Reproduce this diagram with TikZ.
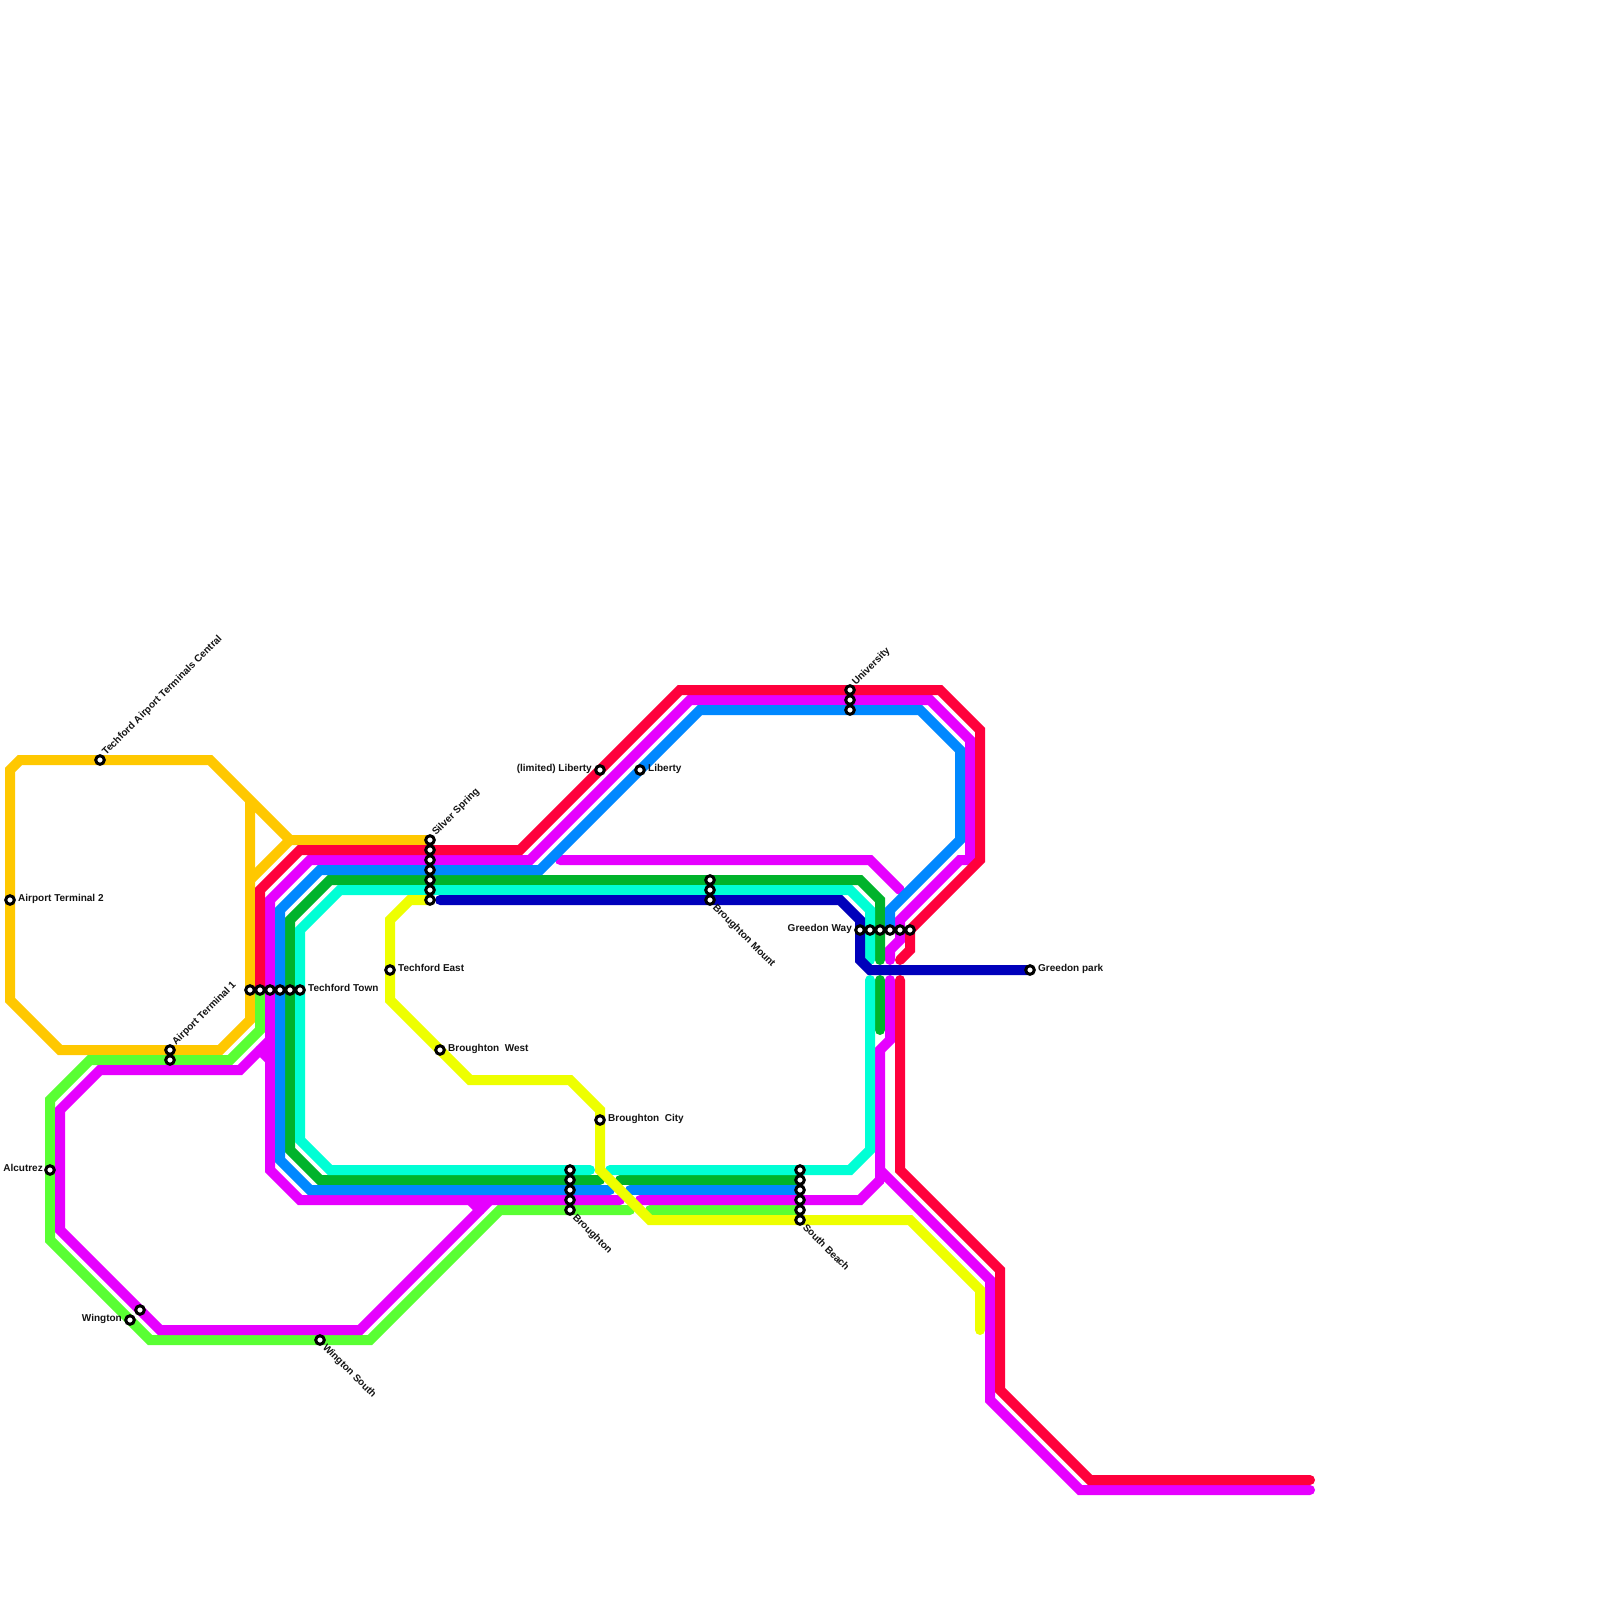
\documentclass[tikz,border=0pt]{standalone}
\usepackage{fontspec}
\setmainfont{Liberation Sans}
\definecolor{cOrange}{HTML}{FFC800}
\definecolor{cRed}{HTML}{FF003C}
\definecolor{cMag}{HTML}{E600FF}
\definecolor{cBlue}{HTML}{0088FF}
\definecolor{cGreen}{HTML}{00B32B}
\definecolor{cAqua}{HTML}{00FFD5}
\definecolor{cLime}{HTML}{59FF33}
\definecolor{cYellow}{HTML}{EEFF00}
\definecolor{cNavy}{HTML}{0000BB}
\tikzset{
  route/.style={line width=10pt,line cap=round,line join=miter,miter limit=10},
  stn/.style={circle,draw=black,fill=white,line width=3pt,minimum size=8.6pt,inner sep=0pt},
  lbl/.style={inner sep=0pt,text=black!92,font=\fontsize{10}{12}\selectfont\bfseries},
  lblR/.style={lbl,anchor=mid west},
  lblL/.style={lbl,anchor=mid east},
  lblUp/.style={lbl,anchor=mid west,rotate=45},
  lblDn/.style={lbl,anchor=mid west,rotate=-45}
}
\begin{document}
\begin{tikzpicture}[x=1pt,y=-1pt]
\useasboundingbox (0,0) rectangle (1600,1600);
\fill[white] (0,0) rectangle (1600,1600);
% amber
\draw[route,cOrange] (430,840) -- (290,840) -- (210,760) -- (20,760) -- (10,770) -- (10,1000) -- (60,1050) -- (220,1050) -- (250,1020) -- (250,800);
\draw[route,cOrange] (250,880) -- (290,840);
% lime
\draw[route,cLime] (260,990) -- (260,1030) -- (230,1060) -- (90,1060) -- (50,1100) -- (50,1240) -- (150,1340) -- (370,1340) -- (500,1210) -- (630,1210);
\draw[route,cLime] (650,1210) -- (800,1210);
% magenta
\draw[route,cMag] (430,860) -- (310,860) -- (270,900) -- (270,1170) -- (300,1200) -- (620,1200);
\draw[route,cMag] (430,860) -- (530,860) -- (690,700) -- (930,700) -- (970,740) -- (970,860) -- (960,860) -- (900,920) -- (900,940) -- (890,950) -- (890,960);
\draw[route,cMag] (640,1200) -- (860,1200) -- (880,1180);
\draw[route,cMag] (890,980) -- (890,1040) -- (880,1050) -- (880,1170) -- (990,1280) -- (990,1400) -- (1080,1490) -- (1310,1490);
\draw[route,cMag] (880,1170) -- (880,1180);
\draw[route,cMag] (560,860) -- (870,860) -- (900,890);
\draw[route,cMag] (270,1040) -- (240,1070) -- (100,1070) -- (60,1110) -- (60,1230) -- (160,1330) -- (360,1330) -- (490,1200);
\draw[route,cMag] (260,1050) -- (270,1060);
\draw[route,cMag] (470,1200) -- (480,1210);
% red
\draw[route,cRed] (260,990) -- (260,890) -- (300,850) -- (520,850) -- (680,690) -- (940,690) -- (980,730) -- (980,860) -- (910,930) -- (910,950) -- (900,960);
\draw[route,cRed] (900,980) -- (900,1170) -- (1000,1270) -- (1000,1390) -- (1090,1480) -- (1310,1480);
% green
\draw[route,cGreen] (600,1180) -- (320,1180) -- (290,1150) -- (290,920) -- (330,880) -- (860,880) -- (880,900) -- (880,960);
\draw[route,cGreen] (620,1180) -- (800,1180);
\draw[route,cGreen] (880,980) -- (880,1030);
% aqua
\draw[route,cAqua] (590,1170) -- (330,1170) -- (300,1140) -- (300,930) -- (340,890) -- (850,890) -- (870,910) -- (870,960);
\draw[route,cAqua] (610,1170) -- (850,1170) -- (870,1150) -- (870,980);
% blue
\draw[route,cBlue] (610,1190) -- (310,1190) -- (280,1160) -- (280,910) -- (320,870) -- (540,870) -- (700,710) -- (920,710) -- (960,750) -- (960,840) -- (890,910) -- (890,930);
\draw[route,cBlue] (630,1190) -- (800,1190);
% navy
\draw[route,cNavy] (440,900) -- (840,900) -- (860,920) -- (860,960) -- (870,970) -- (1030,970);
% yellow
\draw[route,cYellow] (430,900) -- (410,900) -- (390,920) -- (390,1000) -- (470,1080) -- (570,1080) -- (600,1110) -- (600,1170) -- (650,1220) -- (910,1220) -- (980,1290) -- (980,1330);
% stations
\foreach \n/\x/\y in {tac/100/760,at2/10/900,ata/170/1050,atb/170/1060,
  tta/250/990,ttb/260/990,ttc/270/990,ttd/280/990,tte/290/990,ttf/300/990,
  ssa/430/840,ssb/430/850,ssc/430/860,ssd/430/870,sse/430/880,ssf/430/890,ssg/430/900,
  tea/390/970,bwe/440/1050,bci/600/1120,
  bra/570/1170,brb/570/1180,brc/570/1190,brd/570/1200,bre/570/1210,
  sba/800/1170,sbb/800/1180,sbc/800/1190,sbd/800/1200,sbe/800/1210,sbf/800/1220,
  lla/600/770,lib/640/770,
  bma/710/880,bmb/710/890,bmc/710/900,
  una/850/690,unb/850/700,unc/850/710,
  gwa/860/930,gwb/870/930,gwc/880/930,gwd/890/930,gwe/900/930,gwf/910/930,
  gpa/1030/970,alc/50/1170,wia/130/1320,wib/140/1310,wso/320/1340}
  {\node[stn] (\n) at (\x,\y) {};}
% labels
\node[lblUp] (ltac) at (104,754) {Techford Airport Terminals Central};
\node[lblR] (lat2) at (18,899) {Airport Terminal 2};
\node[lblUp] (lata) at (174,1044) {Airport Terminal 1};
\node[lblR] (ltt) at (308,989) {Techford Town};
\node[lblUp] (lss) at (434,834) {Silver Spring};
\node[lblR] (lte) at (398,969) {Techford East};
\node[lblR] (lbw) at (448,1049) {Broughton\ \ West};
\node[lblR] (lbc) at (608,1119) {Broughton\ \ City};
\node[lblDn] (lbr) at (574,1216) {Broughton};
\node[lblDn] (lsb) at (804,1226) {South Beach};
\node[lblL] (lla) at (592,769) {(limited) Liberty};
\node[lblR] (llib) at (648,769) {Liberty};
\node[lblDn] (lbm) at (714,906) {Broughton Mount};
\node[lblUp] (lun) at (854,684) {University};
\node[lblL] (lgw) at (852,929) {Greedon Way};
\node[lblR] (lgp) at (1038,969) {Greedon park};
\node[lblL] (lal) at (43,1169) {Alcutrez};
\node[lblL] (lwi) at (122,1319) {Wington};
\node[lblDn] (lws) at (324,1346) {Wington South};
\end{tikzpicture}
\end{document}
